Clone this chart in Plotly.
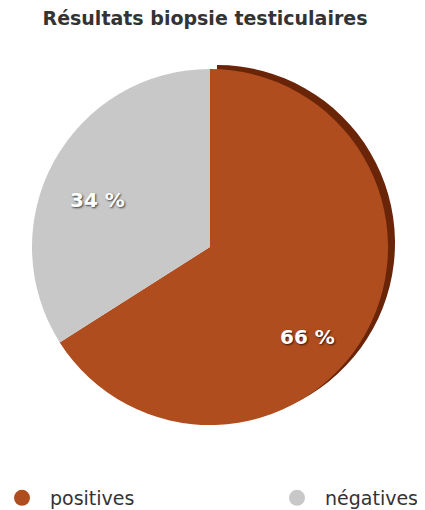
import plotly.graph_objects as go

labels = ["positives", "négatives"]
values = [66, 34]
colors = ["#b04d1e", "#c8c8c8"]
rim_colors = ["#6a2508", "rgba(0,0,0,0)"]

W, H = 425, 510
FONT = "DejaVu Sans, Liberation Sans, Arial"

def dom(x0, x1, y0, y1):
    return dict(x=[x0 / W, x1 / W], y=[1 - y1 / H, 1 - y0 / H])

fig = go.Figure()
# 3D rim (behind)
fig.add_trace(go.Pie(
    labels=labels, values=values, sort=False, direction="clockwise", rotation=0,
    marker=dict(colors=rim_colors, line=dict(width=0)),
    textinfo="none", hoverinfo="skip", showlegend=False,
    domain=dom(31, 387, 57, 413),
))
fig.add_trace(go.Pie(
    labels=labels, values=values, sort=False, direction="clockwise", rotation=0,
    marker=dict(colors=colors, line=dict(width=0)),
    textinfo="none", showlegend=False,
    domain=dom(24, 380, 61, 417),
))

# legend entries with round markers, one legend per entry
for i, (lab, col) in enumerate(zip(labels, colors)):
    fig.add_trace(go.Scatter(
        x=[None], y=[None], mode="markers", name=lab,
        marker=dict(symbol="circle", size=16, color=col),
        legend="legend" if i == 0 else "legend2", showlegend=True,
    ))

# percentage labels
label_pos = [(299, 329), (89, 192)]
for v, (px, py) in zip(values, label_pos):
    fig.add_annotation(
        text=f"<b>{v} %</b>", x=px / W, y=1 - py / H, xref="paper", yref="paper",
        showarrow=False, xanchor="center", yanchor="middle",
        font=dict(family=FONT, size=20, color="white",
                  shadow="1px 1px 2px rgba(0,0,0,0.7)"),
    )

legend_common = dict(orientation="h", y=1 - 490 / H, xanchor="left", yanchor="middle",
                     bgcolor="rgba(0,0,0,0)", itemwidth=46,
                     font=dict(family=FONT, size=19, color="#333333"))

fig.update_layout(
    width=W, height=H,
    margin=dict(l=0, r=0, t=0, b=0, autoexpand=False),
    paper_bgcolor="white", plot_bgcolor="white",
    xaxis=dict(visible=False), yaxis=dict(visible=False),
    title=dict(text="<b>Résultats biopsie testiculaires</b>", x=197 / W, xanchor="center",
               y=1 - 10 / H, yanchor="middle",
               font=dict(family=FONT, size=19, color="#333333")),
    legend=dict(x=-14 / W, **legend_common),
    legend2=dict(x=261 / W, **legend_common),
)

fig.write_html("out.html")
